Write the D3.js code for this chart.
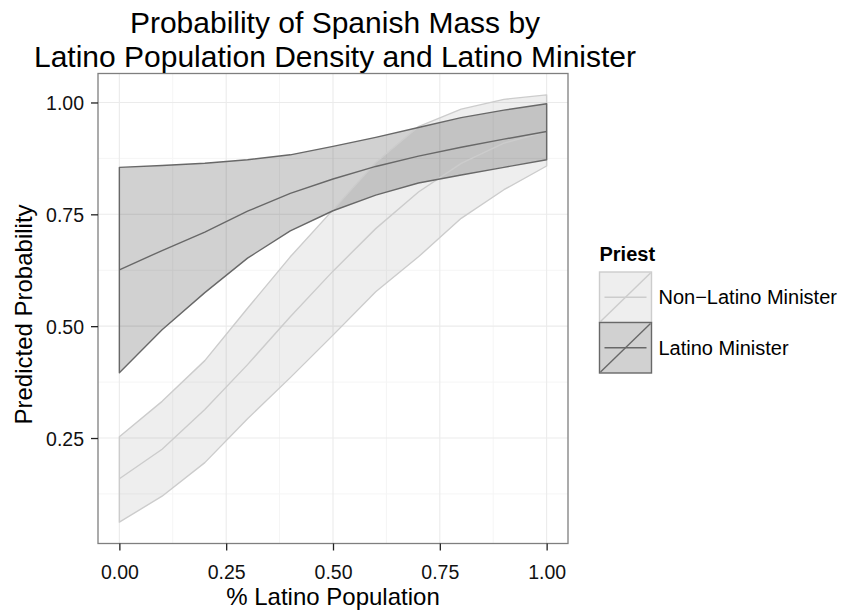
<!DOCTYPE html>
<html><head><meta charset="utf-8">
<script src="https://cdn.jsdelivr.net/npm/d3@7"></script>
<style>body{margin:0;background:#fff}svg{display:block}text{font-family:"Liberation Sans",Arial,sans-serif}</style>
</head><body>
<svg id="chart" width="855" height="612"></svg>
<script>
const xValues = [0,0.1,0.2,0.3,0.4,0.5,0.6,0.7,0.8,0.9,1.0];
const nonLatinoFit   = [0.159,0.225,0.314,0.414,0.521,0.623,0.718,0.800,0.864,0.909,0.935];
const nonLatinoLower = [0.062,0.120,0.195,0.293,0.385,0.480,0.577,0.655,0.741,0.805,0.858];
const nonLatinoUpper = [0.253,0.332,0.423,0.540,0.655,0.760,0.866,0.946,0.985,1.007,1.017];
const latinoFit   = [0.626,0.669,0.710,0.757,0.797,0.829,0.857,0.880,0.900,0.918,0.935];
const latinoLower = [0.396,0.492,0.575,0.652,0.713,0.758,0.793,0.820,0.838,0.855,0.872];
const latinoUpper = [0.855,0.859,0.864,0.872,0.883,0.902,0.922,0.944,0.966,0.983,0.997];
const xTicks = [0,0.25,0.5,0.75,1.0];
const yTicks = [0.25,0.5,0.75,1.0];
const seriesNames = ["Non\u2212Latino Minister","Latino Minister"];
const titleLines = ["Probability of Spanish Mass by","Latino Population Density and Latino Minister"];

const svg = d3.select("#chart");
const L=98, R=568, T=73.5, B=543.5;
const allVals = nonLatinoLower.concat(nonLatinoUpper, latinoLower, latinoUpper);
const ymin = d3.min(allVals), ymax = d3.max(allVals), pad=(ymax-ymin)*0.05;
const x = d3.scaleLinear().domain([-0.05,1.05]).range([L,R]);
const y = d3.scaleLinear().domain([ymin-pad, ymax+pad]).range([B,T]);

// grid
const g = svg.append("g");
const xMinor = [0.125,0.375,0.625,0.875];
const yMinor = [0.125,0.375,0.625,0.875];
g.selectAll(".xmin").data(xMinor).join("line").attr("x1",d=>x(d)).attr("x2",d=>x(d)).attr("y1",T).attr("y2",B).attr("stroke","#f5f5f5").attr("stroke-width",1);
g.selectAll(".ymin").data(yMinor).join("line").attr("y1",d=>y(d)).attr("y2",d=>y(d)).attr("x1",L).attr("x2",R).attr("stroke","#f5f5f5").attr("stroke-width",1);
g.selectAll(".xmaj").data(xTicks).join("line").attr("x1",d=>x(d)).attr("x2",d=>x(d)).attr("y1",T).attr("y2",B).attr("stroke","#ebebeb").attr("stroke-width",1.1);
g.selectAll(".ymaj").data(yTicks).join("line").attr("y1",d=>y(d)).attr("y2",d=>y(d)).attr("x1",L).attr("x2",R).attr("stroke","#ebebeb").attr("stroke-width",1.1);

const groups = [
  {name:seriesNames[0], fit:nonLatinoFit, lo:nonLatinoLower, hi:nonLatinoUpper, fillOp:0.068, stroke:"#cccccc"},
  {name:seriesNames[1], fit:latinoFit, lo:latinoLower, hi:latinoUpper, fillOp:0.18, stroke:"#686868"}
];
const area = d3.area().x((d,i)=>x(xValues[i])).y0(d=>y(d[0])).y1(d=>y(d[1]));
const line = d3.line().x((d,i)=>x(xValues[i])).y(d=>y(d));
function outline(gr){
  const pts = xValues.map((xv,i)=>[x(xv),y(gr.hi[i])]).concat(xValues.map((xv,i)=>[x(xv),y(gr.lo[i])]).reverse());
  return "M"+pts.map(p=>p.join(",")).join("L")+"Z";
}
groups.forEach(gr=>{
  svg.append("path").attr("d",area(gr.lo.map((v,i)=>[v,gr.hi[i]]))).attr("fill","#000").attr("fill-opacity",gr.fillOp);
});
groups.forEach(gr=>{
  svg.append("path").attr("d",outline(gr)).attr("fill","none").attr("stroke",gr.stroke).attr("stroke-width",1.4).attr("stroke-linejoin","round");
  svg.append("path").attr("d",line(gr.fit)).attr("fill","none").attr("stroke",gr.stroke).attr("stroke-width",1.4);
});

// border
svg.append("rect").attr("x",L).attr("y",T).attr("width",R-L).attr("height",B-T).attr("fill","none").attr("stroke","#7f7f7f").attr("stroke-width",1.3);

// axes
const xAxis = svg.append("g").attr("transform",`translate(0,${B})`)
  .call(d3.axisBottom(x).tickValues(xTicks).tickFormat(d3.format(".2f")).tickSize(7));
const yAxis = svg.append("g").attr("transform",`translate(${L},0)`)
  .call(d3.axisLeft(y).tickValues(yTicks).tickFormat(d3.format(".2f")).tickSize(7).tickPadding(7));
[xAxis,yAxis].forEach(a=>{
  a.select(".domain").remove();
  a.selectAll(".tick line").attr("stroke","#222").attr("stroke-width",1.3);
  a.selectAll(".tick text").attr("fill","#111").attr("font-size",19.5).attr("font-family","Liberation Sans, Arial, sans-serif");
});
xAxis.selectAll(".tick text").attr("y",35).attr("dy",0);
yAxis.selectAll(".tick text").attr("dy","0.36em");

// axis titles
svg.append("text").attr("x",(L+R)/2).attr("y",605).attr("text-anchor","middle").attr("font-size",24).text("% Latino Population");
svg.append("text").attr("transform",`translate(32,${(T+B)/2+6}) rotate(-90)`).attr("text-anchor","middle").attr("font-size",24).text("Predicted Probability");

// title
svg.selectAll(".title").data(titleLines).join("text").attr("x",(L+R)/2+2).attr("y",(d,i)=>33+i*34)
  .attr("text-anchor","middle").attr("font-size",30).text(d=>d);

// legend
const lx=599.5, ly=272, kw=52, kh=50.5;
svg.append("text").attr("x",lx).attr("y",261).attr("font-size",20).attr("font-weight","bold").text("Priest");
const leg = svg.selectAll(".leg").data(groups).join("g").attr("transform",(d,i)=>`translate(${lx},${ly+i*kh})`);
leg.append("rect").attr("width",kw).attr("height",kh).attr("fill","#fff");
leg.append("rect").attr("width",kw).attr("height",kh).attr("fill","#000").attr("fill-opacity",d=>d.fillOp).attr("stroke",d=>d.stroke).attr("stroke-width",1.4);
leg.append("line").attr("x1",1).attr("y1",kh-1).attr("x2",kw-1).attr("y2",1).attr("stroke",d=>d.stroke).attr("stroke-width",1.4);
leg.append("line").attr("x1",5).attr("y1",kh/2).attr("x2",kw-5).attr("y2",kh/2).attr("stroke",d=>d.stroke).attr("stroke-width",1.4);
leg.append("text").attr("x",kw+7).attr("y",kh/2).attr("dy","0.36em").attr("font-size",20).text(d=>d.name);
</script>
</body></html>
